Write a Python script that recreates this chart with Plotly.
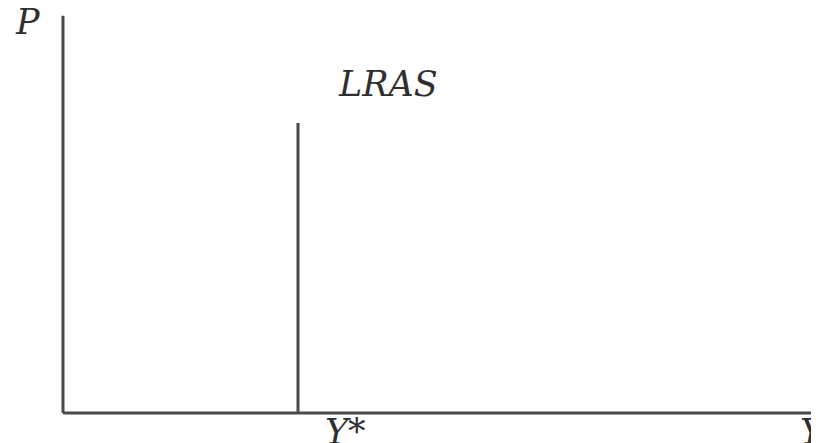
import plotly.graph_objects as go

# Output (Y) and price level (P), in units where Y* = 1 and the LRAS top = 1
y_star = 1.0
lras_top = 1.0
x_axis_end = 3.25
y_axis_end = 1.37

labels = ["P", "LRAS", "Y*", "Y"]
label_x = [-0.15, 1.385, 1.20, 3.19]
label_y = [1.35, 1.135, -0.065, -0.065]

LINE = "#4a4a4a"
TEXT = "#2f2f2f"

fig = go.Figure()

# axes
fig.add_trace(go.Scatter(x=[0, 0], y=[0, y_axis_end], mode="lines",
                         line=dict(color=LINE, width=3), hoverinfo="skip"))
fig.add_trace(go.Scatter(x=[0, x_axis_end], y=[0, 0], mode="lines",
                         line=dict(color=LINE, width=3), hoverinfo="skip"))
# long-run aggregate supply
fig.add_trace(go.Scatter(x=[y_star, y_star], y=[0, lras_top], mode="lines",
                         line=dict(color=LINE, width=3), hoverinfo="skip"))

for t, x, y in zip(labels, label_x, label_y):
    fig.add_annotation(x=x, y=y, text=f"<i>{t}</i>", showarrow=False,
                       xanchor="center", yanchor="middle",
                       font=dict(family="DejaVu Serif", size=35, color=TEXT))

# the page body adds an 8 px margin, so the ranges are shifted to compensate
fig.update_layout(
    width=819,
    height=443,
    margin=dict(l=0, r=0, t=0, b=0),
    paper_bgcolor="white",
    plot_bgcolor="white",
    showlegend=False,
    xaxis=dict(range=[-0.234, 3.251], visible=False, fixedrange=True),
    yaxis=dict(range=[-0.131, 1.3966], visible=False, fixedrange=True),
)

fig.write_html("out.html")
